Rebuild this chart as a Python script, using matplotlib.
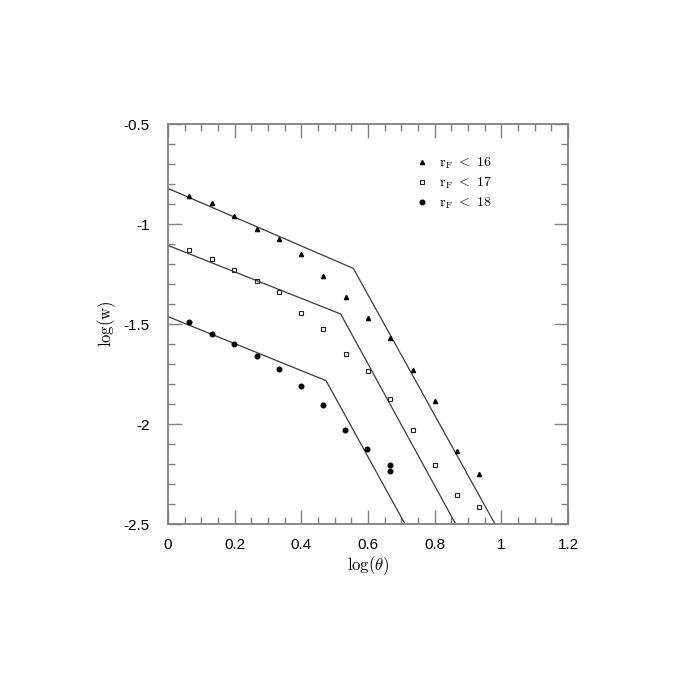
import matplotlib
matplotlib.use("Agg")
import matplotlib.pyplot as plt
from matplotlib.ticker import MultipleLocator, FuncFormatter

plt.rcParams['mathtext.fontset'] = 'cm'
plt.rcParams['font.family'] = ['Liberation Sans', 'DejaVu Sans']

# data: log(theta) positions and log(w) values
x16 = [0.063, 0.131, 0.198, 0.266, 0.332, 0.399, 0.465, 0.534, 0.601, 0.667, 0.734, 0.800, 0.867, 0.933]
y16 = [-0.859, -0.895, -0.962, -1.027, -1.074, -1.152, -1.259, -1.365, -1.468, -1.572, -1.730, -1.884, -2.135, -2.250]

x17 = [0.063, 0.131, 0.198, 0.266, 0.332, 0.399, 0.465, 0.534, 0.601, 0.667, 0.734, 0.800, 0.867, 0.933]
y17 = [-1.130, -1.177, -1.232, -1.285, -1.340, -1.443, -1.525, -1.652, -1.735, -1.877, -2.032, -2.205, -2.354, -2.414]

x18 = [0.063, 0.131, 0.198, 0.266, 0.332, 0.399, 0.465, 0.532, 0.598, 0.665, 0.667]
y18 = [-1.492, -1.550, -1.598, -1.658, -1.727, -1.810, -1.907, -2.032, -2.123, -2.203, -2.235]

# broken power-law fits (knots)
fit16_x = [0.0, 0.556, 0.981]
fit16_y = [-0.822, -1.222, -2.5]
fit17_x = [0.0, 0.518, 0.863]
fit17_y = [-1.107, -1.450, -2.5]
fit18_x = [0.0, 0.474, 0.711]
fit18_y = [-1.463, -1.783, -2.5]

labels = [r'$\mathrm{r_F}\ <\ 16$', r'$\mathrm{r_F}\ <\ 17$', r'$\mathrm{r_F}\ <\ 18$']

fig = plt.figure(figsize=(6.92, 6.92), dpi=100)
ax = fig.add_axes([168/692, 168/692, 400/692, 400/692])

lc = '#3a3a3a'
ax.plot(fit16_x, fit16_y, color=lc, lw=0.9)
ax.plot(fit17_x, fit17_y, color=lc, lw=0.9)
ax.plot(fit18_x, fit18_y, color=lc, lw=0.9)

h1, = ax.plot(x16, y16, ls='none', marker='^', ms=3.0, color='black', label=labels[0])
h2, = ax.plot(x17, y17, ls='none', marker='s', ms=2.4, mfc='none', mec='#222222', mew=0.8, label=labels[1])
h3, = ax.plot(x18, y18, ls='none', marker='o', ms=3.3, color='black', label=labels[2])

ax.set_xlim(0, 1.2)
ax.set_ylim(-2.5, -0.5)

ax.xaxis.set_major_locator(MultipleLocator(0.2))
ax.xaxis.set_minor_locator(MultipleLocator(0.05))
ax.yaxis.set_major_locator(MultipleLocator(0.5))
ax.yaxis.set_minor_locator(MultipleLocator(0.1))

def fmt(v, pos):
    s = ('%.1f' % v)
    if s.endswith('.0'):
        s = s[:-2]
    if s == '-0':
        s = '0'
    return s

ax.xaxis.set_major_formatter(FuncFormatter(fmt))
ax.yaxis.set_major_formatter(FuncFormatter(fmt))

sc = '#808080'
for sp in ax.spines.values():
    sp.set_color(sc)
    sp.set_linewidth(1.3)

ax.tick_params(which='both', direction='in', top=True, right=True, color=sc, width=1.0,
               labelsize=11, labelcolor='black')
ax.tick_params(axis='x', which='both', pad=10)
ax.tick_params(axis='y', which='both', pad=13)
ax.tick_params(which='major', length=10)
ax.tick_params(which='minor', length=5)

ax.set_xlabel(r'$\mathrm{log}(\theta)$', fontsize=12, labelpad=2)
ax.set_ylabel(r'$\mathrm{log}(\mathrm{w})$', fontsize=12, labelpad=4)

ax.legend(handles=[h1, h2, h3], loc='upper left', bbox_to_anchor=(0.598, 0.945),
          frameon=False, fontsize=10, handlelength=0.8, handletextpad=0.8,
          labelspacing=0.33, borderpad=0.2)

fig.savefig('out.png', dpi=100)
